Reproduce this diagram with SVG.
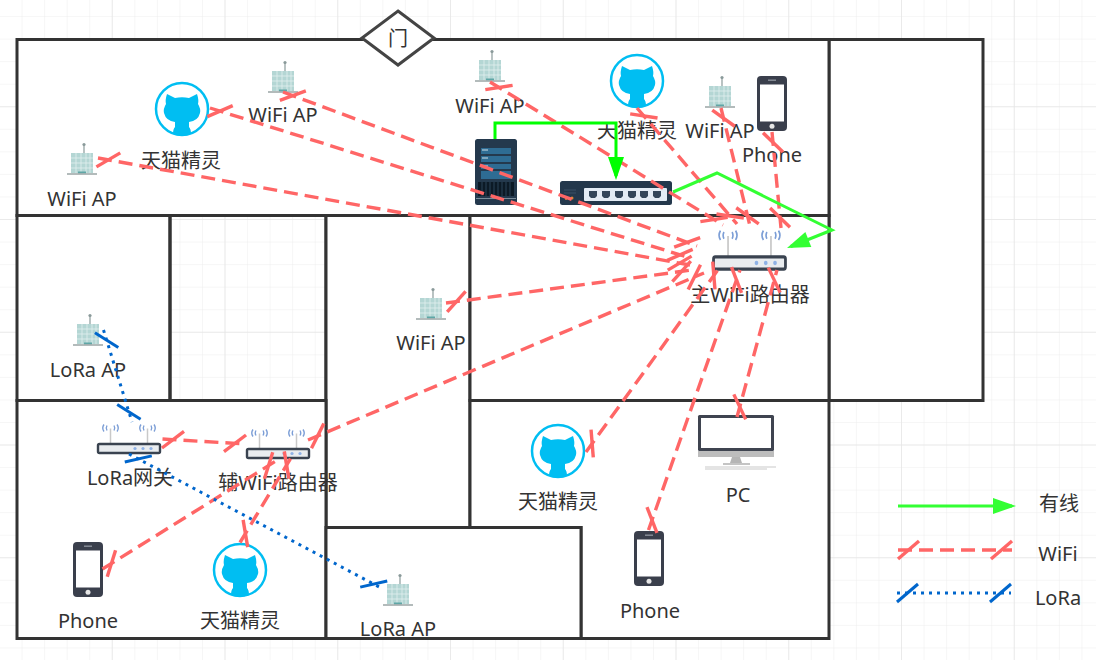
<svg xmlns="http://www.w3.org/2000/svg" xmlns:xlink="http://www.w3.org/1999/xlink" width="1096" height="660" viewBox="0 0 1096 660">
<style>
.wall{fill:#fff;stroke:#333;stroke-width:3}
.open{fill:none;stroke:#333;stroke-width:3}
.lbl{font-family:"Noto Sans","Noto Sans CJK SC",sans-serif;font-size:20px;fill:#333;text-anchor:middle}
.wifi{fill:none;stroke:#FF6666;stroke-width:3.4;stroke-dasharray:14 7;marker-start:url(#wifiDash);marker-end:url(#wifiDash)}
.lora{fill:none;stroke:#0066CC;stroke-width:3;stroke-dasharray:3 5;marker-start:url(#loraDash);marker-end:url(#loraDash)}
.wired{fill:none;stroke:#33FF33;stroke-width:3;marker-end:url(#wiredHead)}
</style>
<defs>
<pattern id="gridMinor" width="22.55" height="22.55" patternUnits="userSpaceOnUse" y="-5.5">
<path d="M22.55 0V22.55M0 22.55H22.55" fill="none" stroke="#ededed" stroke-width="1"/>
</pattern>
<pattern id="gridMajor" width="112.75" height="112.75" patternUnits="userSpaceOnUse" y="-5.5">
<path d="M112.75 0V112.75M0 112.75H112.75" fill="none" stroke="#e6e6e6" stroke-width="1.5"/>
</pattern>
<marker id="wifiDash" markerUnits="userSpaceOnUse" markerWidth="50" markerHeight="50" refX="25" refY="25" orient="auto-start-reverse" overflow="visible">
<path d="M4 34L25 16" stroke="#FF6666" stroke-width="3.4" fill="none"/>
</marker>
<marker id="loraDash" markerUnits="userSpaceOnUse" markerWidth="50" markerHeight="50" refX="25" refY="25" orient="auto-start-reverse" overflow="visible">
<path d="M4 34L25 16" stroke="#0066CC" stroke-width="3" fill="none"/>
</marker>
<marker id="wiredHead" markerUnits="userSpaceOnUse" markerWidth="24" markerHeight="18" refX="19" refY="8" orient="auto" overflow="visible">
<path d="M0 0L23 8L0 16Z" fill="#33FF33"/>
</marker>
<marker id="wiredHead2" markerUnits="userSpaceOnUse" markerWidth="24" markerHeight="18" refX="19" refY="8" orient="auto" overflow="visible">
<path d="M0 0L23 8L0 16Z" fill="#00FF00"/>
</marker>
<g id="bldg">
<path d="M2 -29V-20" stroke="#8a9a9a" stroke-width="1.2"/>
<circle cx="2" cy="-29.5" r="1.6" fill="#8a9a9a"/>
<rect x="-11" y="-21" width="22" height="20" fill="#b4d6d4"/>
<path d="M-11 -16H11M-11 -11H11M-11 -6H11M-6 -21V-1M-1 -21V-1M4 -21V-1M8 -21V-1" stroke="#e2f0ef" stroke-width=".8"/>
<rect x="-4" y="-2.5" width="8" height="2" fill="#5fa6a6"/>
<path d="M-15 0H15" stroke="#9aa5a5" stroke-width="1.5"/>
</g>
<g id="cat">
<circle r="26" fill="#fff" stroke="#00BEF2" stroke-width="2.5"/>
<path d="M-15,-15 L-7,-11 Q0,-12.5 7,-11 L15,-15 Q17,-9 16,-5 Q19,0 18,4 Q16,12 7,13 Q7,16 7,18 Q9,20 9,25 Q0,28 -9,25 Q-9,20 -7,18 L-7,13 Q-16,12 -18,4 Q-19,0 -16,-5 Q-17,-9 -15,-15 Z" fill="#00BEF2"/>
</g>
<g id="router">
<path d="M-18.5 -5V-20M18.5 -5V-20" stroke="#c9c9c9" stroke-width="1.5"/>
<path d="M-22 -23Q-23.500 -20.500 -22 -18M-25 -24Q-27.500 -20.500 -25 -17M-15 -23Q-13.500 -20.500 -15 -18M-12 -24Q-9.500 -20.500 -12 -17M15 -23Q13.500 -20.500 15 -18M12 -24Q9.500 -20.500 12 -17M22 -23Q23.500 -20.500 22 -18M25 -24Q27.500 -20.500 25 -17" stroke="#7c9ed6" stroke-width="1.4" fill="none"/>
<rect x="-31" y="-4.5" width="62" height="9" rx="1.5" fill="#e9ecef" stroke="#3a4350" stroke-width="2.4"/>
<circle cx="6" r="1.6" fill="#8fb2e6"/><circle cx="14" r="1.6" fill="#8fb2e6"/><circle cx="22" r="1.6" fill="#8fb2e6"/>
</g>
<g id="phone">
<rect width="30" height="55" rx="4" fill="#3a3f4c"/>
<rect x="3" y="8.5" width="24" height="37" fill="#fff"/>
<rect x="11" y="3.5" width="8" height="1.4" fill="#8a8f9a"/>
<circle cx="15" cy="50.3" r="2.5" fill="#e6e6e6"/>
</g>
</defs>

<rect width="1096" height="660" fill="#fff"/>
<rect width="1096" height="660" fill="url(#gridMinor)"/>
<rect width="1096" height="660" fill="url(#gridMajor)"/>

<g id="rooms">
<rect class="wall" x="829" y="39.500" width="154" height="361"/>
<rect class="wall" x="17" y="39.500" width="812" height="176"/>
<rect class="wall" x="17" y="215.500" width="153" height="185"/>
<path class="open" d="M170 215.500H326V400.500H170Z"/>
<rect class="wall" x="326" y="215.500" width="144" height="312"/>
<rect class="wall" x="470" y="215.500" width="359" height="185"/>
<rect class="wall" x="17" y="400.500" width="309" height="238"/>
<path d="M470 400.500H829V638.500H581V527.500H470Z" class="wall"/>
<rect class="wall" x="326" y="527.500" width="255" height="111"/>
</g>

<g id="door">
<path d="M398 11L434 38L398 65L362 38Z" fill="#fff" stroke="#444" stroke-width="3"/>
<text class="lbl" x="398" y="46">门</text>
</g>

<g id="nodes">
<g id="ap1"><use href="#bldg" x="82" y="174"/><text class="lbl" x="82" y="206">WiFi AP</text></g>
<g id="ap2"><use href="#bldg" x="283" y="92"/><text class="lbl" x="283" y="122">WiFi AP</text></g>
<g id="ap3"><use href="#bldg" x="490" y="81"/><text class="lbl" x="490" y="113">WiFi AP</text></g>
<g id="ap4"><use href="#bldg" x="720" y="107"/><text class="lbl" x="720" y="138">WiFi AP</text></g>
<g id="ap5"><use href="#bldg" x="431" y="319"/><text class="lbl" x="431" y="350">WiFi AP</text></g>
<g id="lora-ap1"><use href="#bldg" x="88" y="345"/><text class="lbl" x="88" y="377">LoRa AP</text></g>
<g id="lora-ap2"><use href="#bldg" x="398" y="605"/><text class="lbl" x="398" y="636">LoRa AP</text></g>
<g id="cat1"><use href="#cat" x="182" y="109"/><text class="lbl" x="181" y="168">天猫精灵</text></g>
<g id="cat2"><use href="#cat" x="637" y="81"/><text class="lbl" x="637" y="138">天猫精灵</text></g>
<g id="cat3"><use href="#cat" x="558" y="451"/><text class="lbl" x="558" y="509">天猫精灵</text></g>
<g id="cat4"><use href="#cat" x="240" y="570"/><text class="lbl" x="240" y="628">天猫精灵</text></g>
<g id="server">
<rect x="475" y="139" width="42" height="66" rx="2.500" fill="#24394d"/>
<rect x="481" y="148" width="30" height="6" fill="#2e6c93"/><rect x="481" y="156" width="30" height="6" fill="#2e6c93"/><rect x="481" y="164" width="30" height="5" fill="#2e6c93"/><rect x="481" y="171" width="30" height="8" fill="#2e6c93"/>
<path d="M482 150H488M482 158H488M482 166H488" stroke="#cfe0ea" stroke-width="1"/>
<rect x="478" y="182" width="36" height="14" fill="#0c1a26"/>
<path d="M482 182V196M486 182V196M490 182V196M494 182V196M498 182V196M502 182V196M506 182V196M510 182V196" stroke="#2a4256" stroke-width="1"/>
<path d="M476 198.500H516" stroke="#7a8c9a" stroke-width="1"/>
</g>
<g id="switch">
<rect x="560" y="181" width="112" height="24" rx="2.500" fill="#24384c"/>
<rect x="584" y="188" width="83" height="13" rx="1" fill="#e3ecf5"/>
<g fill="#33465a"><path d="M589 191H597V196L595 198H591L589 196Z"/><path d="M602 191H610V196L608 198H604L602 196Z"/><path d="M615 191H623V196L621 198H617L615 196Z"/><path d="M628 191H636V196L634 198H630L628 196Z"/><path d="M640 191H648V196L646 198H642L640 196Z"/><path d="M653 191H661V196L659 198H655L653 196Z"/></g>
<circle cx="572" cy="198" r="1.500" fill="#e08a30"/><circle cx="566" cy="199" r="1" fill="#e08a30"/>
<path d="M564 190H576M564 193H576" stroke="#3b5166" stroke-width="1"/>
</g>
<g id="main-router"><use href="#router" transform="translate(749.500 263) scale(1.16 1.35)"/><text class="lbl" x="750" y="302">主WiFi路由器</text></g>
<g id="gateway"><use href="#router" x="129" y="448.500"/><text class="lbl" x="130" y="485">LoRa网关</text></g>
<g id="sub-router"><use href="#router" x="278" y="453.500"/><text class="lbl" x="278" y="490">辅WiFi路由器</text></g>
<g id="phone1"><use href="#phone" x="757" y="76"/><text class="lbl" x="772" y="162">Phone</text></g>
<g id="phone2"><use href="#phone" x="73" y="542"/><text class="lbl" x="88" y="628">Phone</text></g>
<g id="phone3"><use href="#phone" x="634" y="531"/><text class="lbl" x="650" y="618">Phone</text></g>
<g id="pc">
<rect x="698" y="415" width="76" height="36" rx="1.500" fill="#3f4450"/>
<rect x="701" y="418" width="70" height="30" fill="#fff"/>
<rect x="698" y="451" width="76" height="6" fill="#bdbdbd"/>
<path d="M732 457H740L742 463H730Z" fill="#b5b5b5"/><rect x="723" y="463" width="27" height="2" fill="#c4c4c4"/>
<rect x="705" y="466" width="62" height="4" fill="#e4e4e4"/><rect x="767" y="466" width="9" height="2" fill="#e4e4e4"/>
<text class="lbl" x="738" y="502">PC</text>
</g>
</g>

<g id="connectors">
<path class="wifi" d="M98 158L690 265"/>
<path class="wifi" d="M210 108L690 258"/>
<path class="wifi" d="M283 92L697 246"/>
<path class="wifi" d="M490 82L723 225"/>
<path class="wifi" d="M637 108L737 224"/>
<path class="wifi" d="M721 108L750 226"/>
<path class="wifi" d="M772 132L781 228"/>
<path class="wifi" d="M446 303L692 270"/>
<path class="wifi" d="M308 440L704 273"/>
<path class="wifi" d="M586 452L720 267"/>
<path class="wifi" d="M648.500 530L740 270"/>
<path class="wifi" d="M737 417L777 270"/>
<path class="wifi" d="M162.500 439L245.500 444"/>
<path class="wifi" d="M102.500 569L277.500 460"/>
<path class="wifi" d="M240 542.500L292 456"/>
<path class="lora" d="M103.500 330L132 422"/>
<path class="lora" d="M129 454L383 589"/>
<path d="M495 139V123H616V176" fill="none" stroke="#00FF00" stroke-width="3" marker-end="url(#wiredHead2)"/>
<path class="wired" d="M673 192L717 173L832 230L790.700 246.500"/>
</g>

<g id="legend">
<path class="wired" d="M898 506H1012"/>
<path class="wifi" d="M898 550H1012"/>
<path class="lora" d="M897 593H1011"/>
<text class="lbl" x="1059" y="511">有线</text>
<text class="lbl" x="1058" y="561">WiFi</text>
<text class="lbl" x="1058" y="605">LoRa</text>
</g>
</svg>
